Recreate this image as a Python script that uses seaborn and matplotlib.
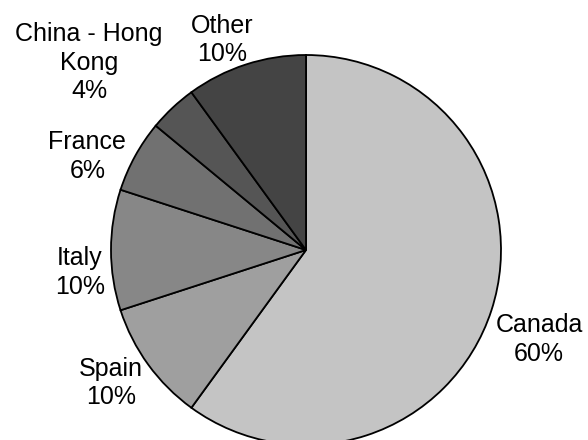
import numpy as np
import matplotlib
matplotlib.use("Agg")
import matplotlib.pyplot as plt
import seaborn as sns

# Data
countries = ["Canada", "Spain", "Italy", "France", "China - Hong\nKong", "Other"]
shares = [60, 10, 10, 6, 4, 10]
colors = ["#c4c4c4", "#9f9f9f", "#878787", "#717171", "#555555", "#444444"]
# label placement: distance (in radii) and angle shift from wedge middle
label_dist = [1.28, 1.21, 1.165, 1.22, 1.47, 1.16]
label_shift = [-3.0, -1.7, 5.6, 5.6, 6.0, 3.8]

sns.set_theme(style="white")
plt.rcParams['font.family'] = ['Liberation Sans', 'DejaVu Sans']

fig = plt.figure(figsize=(5.88, 4.4), dpi=100)
ax = fig.add_axes([0, 0, 1, 1])

labels = [f"{c}\n{s}%" for c, s in zip(countries, shares)]
wedges, texts = ax.pie(
    shares, labels=labels, colors=colors, startangle=90, counterclock=False,
    wedgeprops=dict(edgecolor="black", linewidth=1.3),
    textprops=dict(fontsize=18, color="black", ha="center", va="center",
                   linespacing=1.25),
    labeldistance=1.2,
)

for w, t, d, s in zip(wedges, texts, label_dist, label_shift):
    ang = np.deg2rad((w.theta1 + w.theta2) / 2 + s)
    t.set_position((d * np.cos(ang), d * np.sin(ang)))
    t.set_ha("center")
    t.set_va("center")

# pie radius 195 px, centre at (306, 250) px
ax.set_xlim(-306 / 195, (588 - 306) / 195)
ax.set_ylim(-(440 - 250) / 195, 250 / 195)
ax.set_aspect("auto")
ax.axis("off")

fig.savefig("out.png", dpi=100)
